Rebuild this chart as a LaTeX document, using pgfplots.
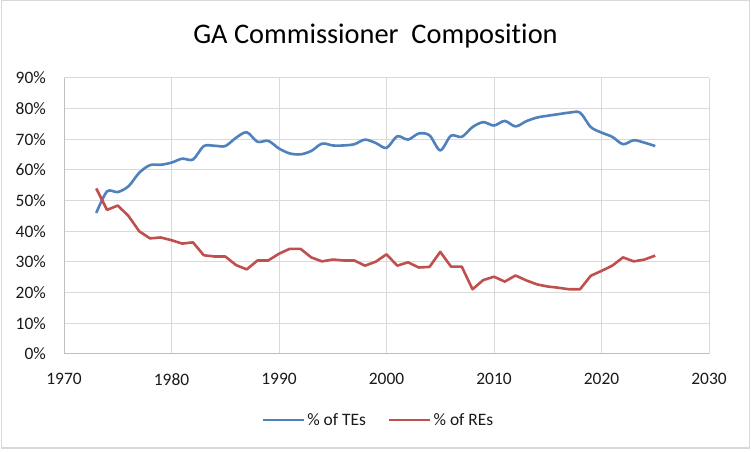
\documentclass[border=0pt]{standalone}
\usepackage{fontspec}
\setmainfont{Carlito}[RawFeature=-liga]
\usepackage{pgfplots}
\pgfplotsset{compat=1.18}
\usepackage{pgfplotstable}
\definecolor{teblue}{HTML}{4F81BD}
\definecolor{rered}{HTML}{C0504D}
\definecolor{gridc}{HTML}{D9D9D9}
\definecolor{axc}{HTML}{BFBFBF}
\definecolor{tickc}{HTML}{1A1A1A}
\pgfplotstableread{
year te re
1973 46.0 54.0
1974 53.0 47.0
1975 52.8 48.4
1976 54.7 45.0
1977 59.1 40.0
1978 61.6 37.7
1979 61.7 38.0
1980 62.4 37.1
1981 63.7 36.0
1982 63.4 36.4
1983 67.8 32.2
1984 67.9 31.8
1985 67.8 31.8
1986 70.5 29.0
1987 72.3 27.6
1988 69.2 30.5
1989 69.5 30.5
1990 67.0 32.7
1991 65.4 34.3
1992 65.1 34.3
1993 66.2 31.5
1994 68.6 30.2
1995 68.0 30.8
1996 68.0 30.5
1997 68.4 30.5
1998 69.9 28.8
1999 68.8 30.1
2000 67.2 32.5
2001 71.0 28.8
2002 69.9 29.9
2003 71.9 28.2
2004 71.3 28.4
2005 66.4 33.3
2006 71.2 28.5
2007 70.8 28.5
2008 74.0 21.1
2009 75.6 24.1
2010 74.5 25.2
2011 76.0 23.6
2012 74.2 25.6
2013 75.9 24.0
2014 77.1 22.7
2015 77.7 22.0
2016 78.2 21.6
2017 78.7 21.1
2018 78.7 21.1
2019 74.0 25.5
2020 72.2 27.1
2021 70.8 28.8
2022 68.4 31.5
2023 69.7 30.2
2024 68.9 30.8
2025 67.8 32.1
}\data
\begin{document}
\begin{tikzpicture}[x=1bp,y=1bp]
\useasboundingbox (0,0) rectangle (751,452);
\fill[white] (0,0) rectangle (751,452);
\draw[gridc, line width=1.5bp] (1.5,4) rectangle (749.5,451.5);
\begin{axis}[
  at={(64bp,98bp)}, anchor=south west,
  scale only axis, width=645bp, height=276bp,
  xmin=1970, xmax=2030, ymin=0, ymax=90,
  xtick={1970,1980,...,2030}, ytick={0,10,...,90},
  axis lines=left, axis line style={-, draw=axc, line width=1bp},
  grid=major, major grid style={draw=gridc, line width=1bp},
  major tick length=0pt,
  /pgf/number format/assume math mode=true,
  /pgf/number format/1000 sep={},
  yticklabel={\pgfmathprintnumber{\tick}\%},
  ticklabel style={font=\fontsize{17.5}{20}\selectfont, text=tickc},
  yticklabel style={inner sep=0pt, anchor=east, xshift=-18bp},
  xticklabel style={inner sep=0pt, anchor=north, yshift=-19bp},
  legend style={at={(0.4876,-0.239)}, anchor=center, draw=none, fill=none,
    font=\fontsize{17.5}{20}\selectfont, text=tickc,
    /tikz/every even column/.append style={column sep=20bp},
    inner sep=0pt, cells={anchor=west}},
  legend columns=2,
  legend image code/.code={\draw[#1] (0bp,0bp) -- (41bp,0bp);},
  clip=false,
]
\addplot[teblue, line width=2.6bp, smooth, tension=0.5, line join=round] table[x=year, y=te] {\data};
\addlegendentry{\% of TEs}
\addplot[rered, line width=2.6bp, line join=round] table[x=year, y=re] {\data};
\addlegendentry{\% of REs}
\end{axis}
\node[font=\fontsize{28.5}{32}\selectfont, text=black] at (375.5,416) {GA Commissioner\ \ Composition};
\end{tikzpicture}
\end{document}
